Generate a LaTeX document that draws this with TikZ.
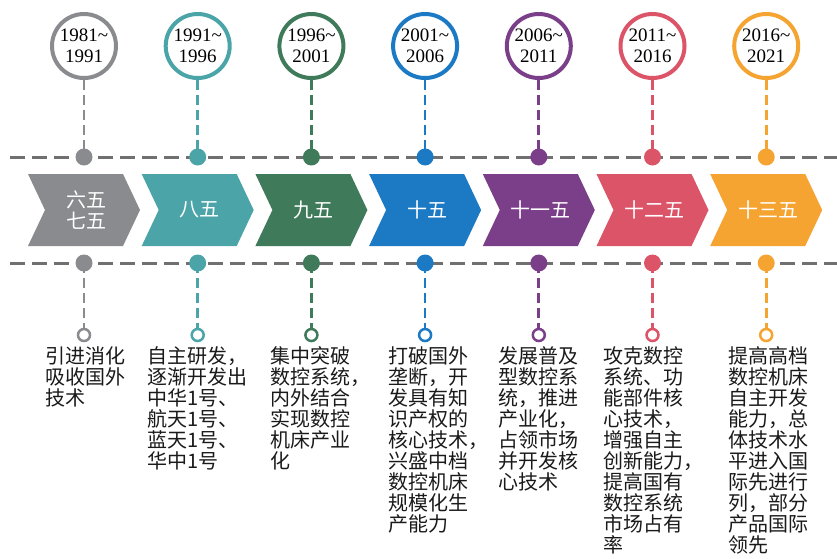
\documentclass[tikz,border=0pt]{standalone}
\usepackage{fontspec}
\setmainfont{Liberation Serif}
\newfontfamily\cjk{Noto Sans CJK SC}
\definecolor{cA}{HTML}{8A8B8F}
\definecolor{cB}{HTML}{4BA5A8}
\definecolor{cC}{HTML}{3F7A5A}
\definecolor{cD}{HTML}{1C7AC4}
\definecolor{cE}{HTML}{7B3F8A}
\definecolor{cF}{HTML}{DB5468}
\definecolor{cG}{HTML}{F5A431}
\definecolor{lineg}{HTML}{707070}
\definecolor{txt}{HTML}{1A1A1A}
\tikzset{
  yearcirc/.style={circle,draw=#1,line width=4pt,fill=white,minimum size=64pt,inner sep=0pt,align=center,
     font=\fontsize{19}{21}\selectfont,text=black},
  dotnode/.style={circle,fill=#1,minimum size=17pt,inner sep=0pt},
  ringnode/.style={circle,draw=#1,line width=2.5pt,fill=white,minimum size=12pt,inner sep=0pt},
  vconn/.style={draw=#1,line width=2.7pt,dash pattern=on 10pt off 5pt},
  hline/.style={draw=lineg,line width=3pt,dash pattern=on 15pt off 7pt},
  stagelabel/.style={text=white,align=center,inner sep=0pt,font=\cjk\fontsize{20}{21}\selectfont},
  desctext/.style={anchor=north west,inner sep=0pt,align=left,text=txt,font=\cjk\fontsize{20}{21}\selectfont}
}
\begin{document}
\begin{tikzpicture}[x=1pt,y=-1pt]
\useasboundingbox[fill=white] (0,0) rectangle (837,558);
\coordinate (hlA) at (10,157);
\coordinate (hlB) at (837,157);
\coordinate (llA) at (10,263);
\coordinate (llB) at (837,263);
\draw[hline] (hlA) -- (hlB);
\draw[hline] (llA) -- (llB);
\foreach \i/\cx/\col/\yr/\stage/\tx/\desc in {
 1/84/cA/{1981\textasciitilde\\1991}/{六五\\七五}/45/{引进消化\\吸收国外\\技术},
 2/197.7/cB/{1991\textasciitilde\\1996}/{八五}/147/{自主研发，\\逐渐开发出\\中华1号、\\航天1号、\\蓝天1号、\\华中1号},
 3/311.4/cC/{1996\textasciitilde\\2001}/{九五}/270/{集中突破\\数控系统，\\内外结合\\实现数控\\机床产业\\化},
 4/425.1/cD/{2001\textasciitilde\\2006}/{十五}/388/{打破国外\\垄断，开\\发具有知\\识产权的\\核心技术，\\兴盛中档\\数控机床\\规模化生\\产能力},
 5/538.8/cE/{2006\textasciitilde\\2011}/{十一五}/498/{发展普及\\型数控系\\统，推进\\产业化，\\占领市场\\并开发核\\心技术},
 6/652.5/cF/{2011\textasciitilde\\2016}/{十二五}/603/{攻克数控\\系统、功\\能部件核\\心技术，\\增强自主\\创新能力，\\提高国有\\数控系统\\市场占有\\率},
 7/766.2/cG/{2016\textasciitilde\\2021}/{十三五}/728/{提高高档\\数控机床\\自主开发\\能力，总\\体技术水\\平进入国\\际先进行\\列，部分\\产品国际\\领先}}
{
  \node[yearcirc=\col] (y\i) at (\cx,46) {\yr};
  \node[dotnode=\col] (t\i) at (\cx,157) {};
  \draw[vconn=\col] (y\i.south) -- (t\i.center);
  \fill[\col] (\cx-56,174) -- (\cx+39,174) -- (\cx+56,210) -- (\cx+39,246) -- (\cx-56,246) -- (\cx-39,210) -- cycle;
  \node[stagelabel] (s\i) at (\cx+2,210) {\stage};
  \node[dotnode=\col] (b\i) at (\cx,263) {};
  \node[ringnode=\col] (r\i) at (\cx,335) {};
  \draw[vconn=\col] (b\i.center) -- (r\i.north);
  \node[desctext] (d\i) at (\tx,346) {\desc};
}
\end{tikzpicture}
\end{document}
